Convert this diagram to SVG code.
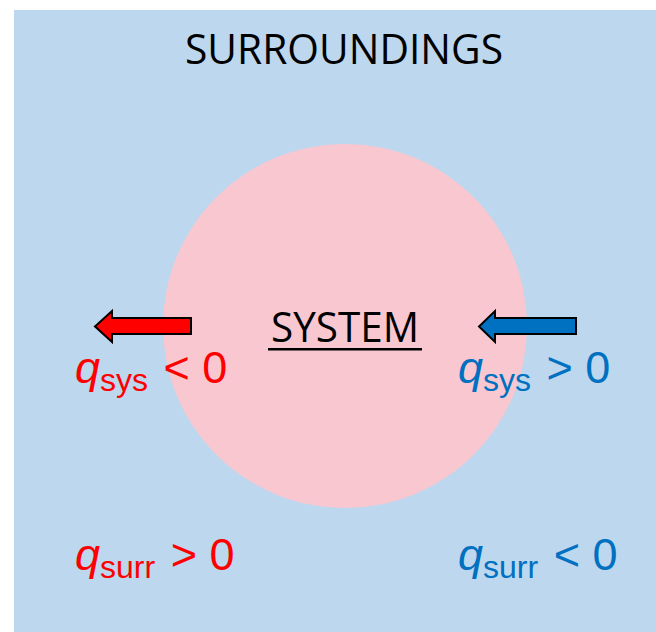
<svg xmlns="http://www.w3.org/2000/svg" width="656" height="632" viewBox="0 0 656 632">
  <style>
    .title { font-family: "Open Sans", "Noto Sans", "Liberation Sans", sans-serif; font-size: 42px; fill: #000000; }
    .eq { font-family: "Liberation Sans", Arial, sans-serif; font-size: 45px; }
    .q { font-style: italic; }
    .sub { font-size: 32px; }
    .hot { fill: #FF0000; }
    .cold { fill: #0070C0; }
    .arrow { stroke: #000000; stroke-width: 2; stroke-linejoin: miter; }
  </style>
  <rect width="656" height="632" fill="#FFFFFF"/>

  <!-- surroundings -->
  <g id="surroundings">
    <rect x="14" y="10" width="642" height="622" fill="#BDD7EE"/>
    <text class="title" x="344" y="64" text-anchor="middle" textLength="318" lengthAdjust="spacingAndGlyphs">SURROUNDINGS</text>
  </g>

  <!-- system -->
  <g id="system">
    <circle cx="345" cy="326" r="182" fill="#F9C7D0"/>
    <text class="title" x="345" y="342" text-anchor="middle" textLength="148" lengthAdjust="spacingAndGlyphs">SYSTEM</text>
    <rect x="268" y="348" width="154" height="2.5" fill="#000000"/>
  </g>

  <!-- heat flow arrows -->
  <g id="connectors">
    <polygon class="arrow" fill="#FF0000" points="191,318 112,318 112,311 95,326.5 112,342 112,334 191,334"/>
    <polygon class="arrow" fill="#0070C0" points="576,318 495,318 495,311 479,326.5 495,342 495,334 576,334"/>
  </g>

  <!-- sign labels -->
  <g id="label-exo-sys">
    <text class="eq hot" x="75" y="383"><tspan class="q">q</tspan><tspan class="sub" dy="8">sys</tspan><tspan dy="-8" dx="3"> &lt; 0</tspan></text>
  </g>
  <g id="label-endo-sys">
    <text class="eq cold" x="458" y="383"><tspan class="q">q</tspan><tspan class="sub" dy="8">sys</tspan><tspan dy="-8" dx="3"> &gt; 0</tspan></text>
  </g>
  <g id="label-exo-surr">
    <text class="eq hot" x="75" y="570"><tspan class="q">q</tspan><tspan class="sub" dy="8">surr</tspan><tspan dy="-8" dx="3"> &gt; 0</tspan></text>
  </g>
  <g id="label-endo-surr">
    <text class="eq cold" x="458" y="570"><tspan class="q">q</tspan><tspan class="sub" dy="8">surr</tspan><tspan dy="-8" dx="3"> &lt; 0</tspan></text>
  </g>
</svg>
